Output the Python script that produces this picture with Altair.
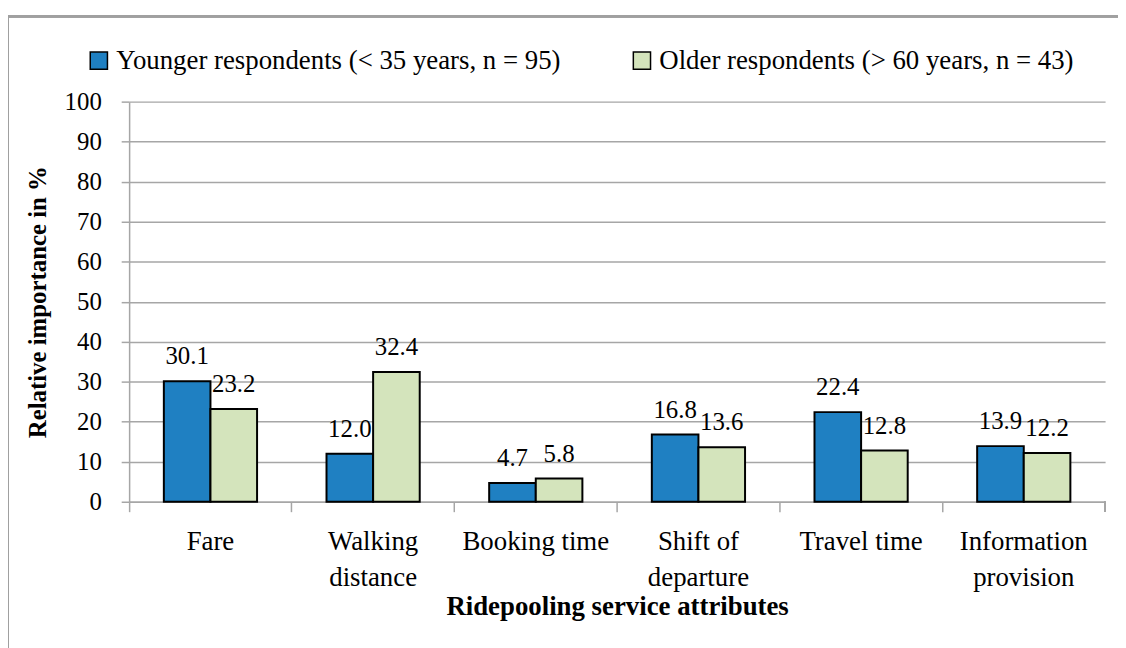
import altair as alt
import pandas as pd

categories = ["Fare", "Walking distance", "Booking time", "Shift of departure",
              "Travel time", "Information provision"]
younger = [30.1, 12.0, 4.7, 16.8, 22.4, 13.9]
older = [23.2, 32.4, 5.8, 13.6, 12.8, 12.2]
series = ["Younger respondents (< 35 years, n = 95)",
          "Older respondents (> 60 years, n = 43)"]
colors = ["#1F80C2", "#D4E4BC"]
y_ticks = [0, 10, 20, 30, 40, 50, 60, 70, 80, 90, 100]

rows = []
for i, c in enumerate(categories):
    rows.append({"cat": c, "group": series[0], "value": younger[i]})
    rows.append({"cat": c, "group": series[1], "value": older[i]})
df = pd.DataFrame(rows)

FONT = "Liberation Serif"
NUM = 25
TXT = 27
W, H = 983, 403
GRID = "#A6A6A6"

label_expr = ("datum.label == 'Walking distance' ? ['Walking', 'distance'] : "
              "datum.label == 'Shift of departure' ? ['Shift of', 'departure'] : "
              "datum.label == 'Information provision' ? ['Information', 'provision'] : datum.label")

x = alt.X("cat:N", sort=categories, title="Ridepooling service attributes",
          scale=alt.Scale(paddingInner=0, paddingOuter=0),
          axis=alt.Axis(labelExpr=label_expr, labelAngle=0, labelFont=FONT, labelFontSize=TXT,
                        labelColor="black", labelLineHeight=36, labelPadding=17,
                        titleFont=FONT, titleFontSize=TXT, titleFontWeight="bold",
                        titleColor="black", titlePadding=4,
                        bandPosition=0, tickSize=10, tickColor=GRID, tickWidth=1.5,
                        domainColor=GRID, domainWidth=1.5, grid=False, labelBaseline="top"))
xo = alt.XOffset("group:N", sort=series,
                 scale=alt.Scale(paddingOuter=0.745, paddingInner=0))
y = alt.Y("value:Q", title="Relative importance in %",
          scale=alt.Scale(domain=[0, 100], nice=False),
          axis=alt.Axis(values=y_ticks, labelFont=FONT, labelFontSize=NUM, labelColor="black",
                        labelPadding=20, tickSize=8, tickColor=GRID, tickWidth=1.5,
                        domainColor=GRID, domainWidth=1.5, gridColor=GRID, gridWidth=1.5,
                        titleFont=FONT, titleFontSize=25, titleFontWeight="bold",
                        titleColor="black", titlePadding=14))
color = alt.Color("group:N", sort=series, title=None,
                  scale=alt.Scale(domain=series, range=colors),
                  legend=alt.Legend(orient="none", legendX=-44, legendY=-55, direction="horizontal",
                                    columns=2, columnPadding=68, labelFont=FONT, labelFontSize=TXT,
                                    labelColor="black", labelLimit=1000, symbolType="square",
                                    symbolSize=300, symbolStrokeColor="black", symbolStrokeWidth=1.5,
                                    symbolOpacity=1, labelOffset=4))

base = alt.Chart(df)
bars = base.mark_bar(stroke="black", strokeWidth=2).encode(x=x, xOffset=xo, y=y, color=color)
labels = base.mark_text(font=FONT, fontSize=NUM, color="black", baseline="bottom", dy=-12).encode(
    x=alt.X("cat:N", sort=categories), xOffset=alt.XOffset("group:N", sort=series),
    y="value:Q", text=alt.Text("value:Q", format=".1f"))
end_tick = alt.Chart(df).mark_rule(color=GRID, strokeWidth=1.5).encode(
    x=alt.value(W), y=alt.value(H), y2=alt.value(H + 10))
border = alt.Chart(df).mark_rect(fill=None, stroke="#A0A0A0", strokeWidth=2).encode(
    x=alt.value(-122), x2=alt.value(1010), y=alt.value(-86), y2=alt.value(570))

chart = alt.layer(border, bars, labels, end_tick).properties(
    width=W, height=H,
    autosize=alt.AutoSizeParams(type="none"),
    padding={"left": 122, "top": 92, "right": 13, "bottom": 145},
    background="white",
).configure_view(stroke=None)

chart.save("out.html", embed_options={"renderer": "svg", "actions": False})
